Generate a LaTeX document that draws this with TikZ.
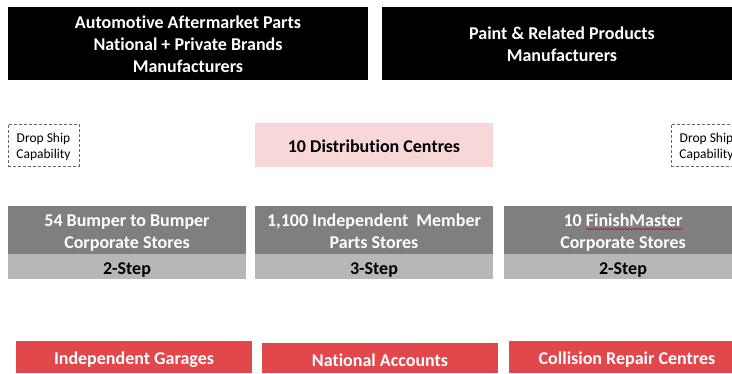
\documentclass[tikz,border=0pt]{standalone}
\usepackage{fontspec}
\setmainfont[RawFeature={-liga}]{Carlito}
\usetikzlibrary{positioning,decorations.pathmorphing}
\definecolor{pinkbox}{HTML}{F8D7D8}
\definecolor{storegrey}{HTML}{7F7F7F}
\definecolor{stepgrey}{HTML}{B7B7B7}
\definecolor{custred}{HTML}{E2474B}
\begin{document}
\begin{tikzpicture}[x=1pt,y=-1pt]
    \tikzstyle{every node} = [align=center, inner sep=0pt, outer sep=0pt, font=\fontsize{18}{22}\selectfont\bfseries]
    \tikzstyle{textdown} = [execute at begin node={\rule{0pt}{#1}}]
    \tikzstyle{maker} = [fill=black, text=white, minimum height=73pt]
    \tikzstyle{store} = [fill=storegrey, text=white, minimum width=238pt, minimum height=48pt, text height=37pt, text depth=0pt]
    \tikzstyle{stepbox} = [fill=stepgrey, text=black, minimum width=238pt, minimum height=25pt, textdown=18.5pt]
    \tikzstyle{cust} = [fill=custred, text=white, minimum width=236pt]
    \tikzstyle{dropbox} = [draw=black!60, dash pattern=on 3pt off 2pt, line width=0.6pt, minimum width=71pt, minimum height=42pt, text height=27pt, text depth=0pt, font=\fontsize{13.5}{16}\selectfont]
    \clip (0,0) rectangle (732,373);

    \node[maker, minimum width=360pt, text height=58.5pt, text depth=0pt](parts) at (188,43.5){Automotive Aftermarket Parts\\National + Private Brands\\Manufacturers};
    \node[maker, minimum width=360pt, text height=36.5pt, text depth=0pt](paint) at (562,43.5){Paint \& Related Products\\Manufacturers};

    \node[fill=pinkbox, minimum width=238pt, minimum height=44pt, textdown=14.5pt](dc) at (374,145){10 Distribution Centres};
    \node[dropbox](dropl) at (43.5,145){Drop Ship\\Capability};
    \node[dropbox](dropr) at (706.5,145){Drop Ship\\Capability};

    \node[store](bumper) at (127,230){54 Bumper to Bumper\\Corporate Stores};
    \node[store](member) at (374,230){1,100 Independent~ Member\\Parts Stores};
    \node[store](finish) at (623,230){10 FinishMaster\\Corporate Stores};
    \node[stepbox, below=0pt of bumper](stepl){2-Step};
    \node[stepbox, below=0pt of member](stepm){3-Step};
    \node[stepbox, below=0pt of finish](stepr){2-Step};

    \node[cust, minimum height=32pt, textdown=18.5pt](garages) at (134,357){Independent Garages};
    \node[cust, minimum height=30pt, textdown=16.5pt](national) at (380,358){National Accounts};
    \node[cust, minimum height=32pt, textdown=18.5pt](collision) at (627,357){Collision Repair Centres};

    % spell check squiggle
    \coordinate (sqa) at (586,229);
    \coordinate (sqb) at (683,229);
    \draw[red!70!black, line width=0.4pt, decorate, decoration={snake, amplitude=0.8pt, segment length=3.5pt}] (sqa) -- (sqb);
\end{tikzpicture}
\end{document}
